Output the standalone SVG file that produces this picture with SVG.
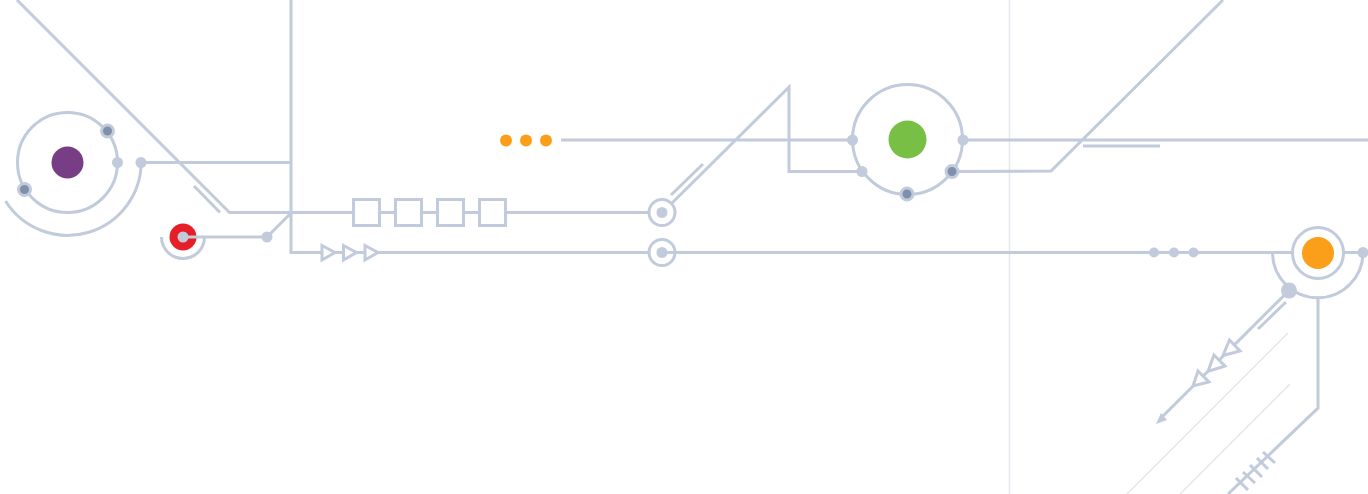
<svg xmlns="http://www.w3.org/2000/svg" width="1368" height="494" viewBox="0 0 1368 494">
<style>
.l{fill:none;stroke:#c1cbdb;stroke-width:3}
.f{fill:none;stroke:#e4e7ee;stroke-width:1.500}
.d{fill:#c1cbdb}
.s{fill:#7f90ad;stroke:#c1cbdb;stroke-width:3}
</style>
<rect width="1368" height="494" fill="#fff"/>
<g id="connectors">
<path class="f" d="M1009.500 0V494M1288 333L1127 494M1290 384L1180 494"/>
<path class="l" d="M17 0L229.500 212.500H353M194 186L220 212.500M291 0V252.500H322M141 162.500H291M183 237H267L291 213"/>
<path class="l" d="M379 212.500H395M421 212.500H437M463 212.500H479M505 212.500H650M335 252.500H343M357 252.500H365M378 252.500H650"/>
<path class="l" d="M672 203L789 87V171.500H862M671 195L703 164M561 140H852M963 140H1368M952 171.500L1051 171L1223 0M1083 146H1160"/>
<path class="l" d="M675 252.500H1292M1344 252.500H1363M1289 290.500L1161 418M1286 302L1258 329M1318 298V408L1228 494"/>
<path class="l" d="M1263 452L1275 463M1257 458L1268 469M1250 465L1262 477M1243 472L1255 483M1236 478L1248 490"/>
<path d="M1156 424L1161 413L1167 420Z" class="d"/>
</g>
<g id="node-purple">
<circle class="l" cx="67.500" cy="162.500" r="50"/>
<path class="l" d="M141.200 162A73.500 73.500 0 0 1 5.500 201"/>
<circle cx="67.500" cy="162.500" r="16" fill="#773e85"/>
<circle class="s" cx="107.500" cy="131" r="6"/>
<circle class="s" cx="24.500" cy="189.500" r="6"/>
<circle class="d" cx="117.500" cy="162.500" r="5.500"/>
<circle class="d" cx="141" cy="162.500" r="5.500"/>
</g>
<g id="node-red">
<path class="l" d="M161.500 237A21.500 21.500 0 0 0 204.500 237"/>
<circle cx="183" cy="237" r="13.500" fill="#e61e28"/>
<circle class="d" cx="183" cy="237" r="5.500"/>
<path class="l" d="M183 237H197"/>
<circle class="d" cx="267" cy="237" r="5.500"/>
</g>
<g id="squares">
<rect class="l" x="353.500" y="199.500" width="26" height="26"/>
<rect class="l" x="395.500" y="199.500" width="26" height="26"/>
<rect class="l" x="437.500" y="199.500" width="26" height="26"/>
<rect class="l" x="479.500" y="199.500" width="26" height="26"/>
</g>
<g id="triangles">
<path class="l" d="M322 245.500L335 252.500L322 260Z"/>
<path class="l" d="M343.500 245.500L356.500 252.500L343.500 260Z"/>
<path class="l" d="M365 245.500L378 252.500L365 260Z"/>
</g>
<g id="node-ring-top">
<circle class="l" cx="662" cy="212.500" r="13"/>
<circle class="d" cx="662" cy="212.500" r="5.500"/>
</g>
<g id="node-ring-bottom">
<circle class="l" cx="662" cy="252.500" r="13"/>
<circle class="d" cx="662" cy="252.500" r="5.500"/>
<path class="l" d="M662 252.500H675"/>
</g>
<g id="orange-dots" fill="#fb9f1b">
<circle cx="506" cy="140.500" r="6"/>
<circle cx="526" cy="140.500" r="6"/>
<circle cx="546" cy="140.500" r="6"/>
</g>
<g id="node-green">
<circle class="l" cx="907.500" cy="139.500" r="55"/>
<circle cx="907.500" cy="139.500" r="19" fill="#78c045"/>
<circle class="d" cx="852.500" cy="140" r="5.500"/>
<circle class="d" cx="963" cy="140" r="5.500"/>
<circle class="d" cx="862" cy="171.500" r="5.500"/>
<circle class="s" cx="952" cy="171.500" r="6"/>
<circle class="s" cx="907" cy="194" r="6"/>
</g>
<g id="dots-right" class="d">
<circle cx="1154" cy="252.500" r="5"/>
<circle cx="1174" cy="252.500" r="5"/>
<circle cx="1193.500" cy="252.500" r="5"/>
</g>
<g id="node-orange">
<path class="l" d="M1272.500 252.500A45.250 45.250 0 0 0 1363 252.500"/>
<circle class="l" cx="1318" cy="253" r="25.500"/>
<circle cx="1318" cy="253" r="16" fill="#fb9f1b"/>
<circle class="d" cx="1363" cy="252.500" r="5.500"/>
<circle class="d" cx="1289" cy="290.500" r="8"/>
</g>
<g id="arrow-triangles">
<path class="l" style="fill:#fff" d="M1229.500 340L1240 351L1223 355.500Z"/>
<path class="l" style="fill:#fff" d="M1214 355L1225 366L1208 371.500Z"/>
<path class="l" style="fill:#fff" d="M1198 371L1209 382L1193 386Z"/>
</g>
</svg>
